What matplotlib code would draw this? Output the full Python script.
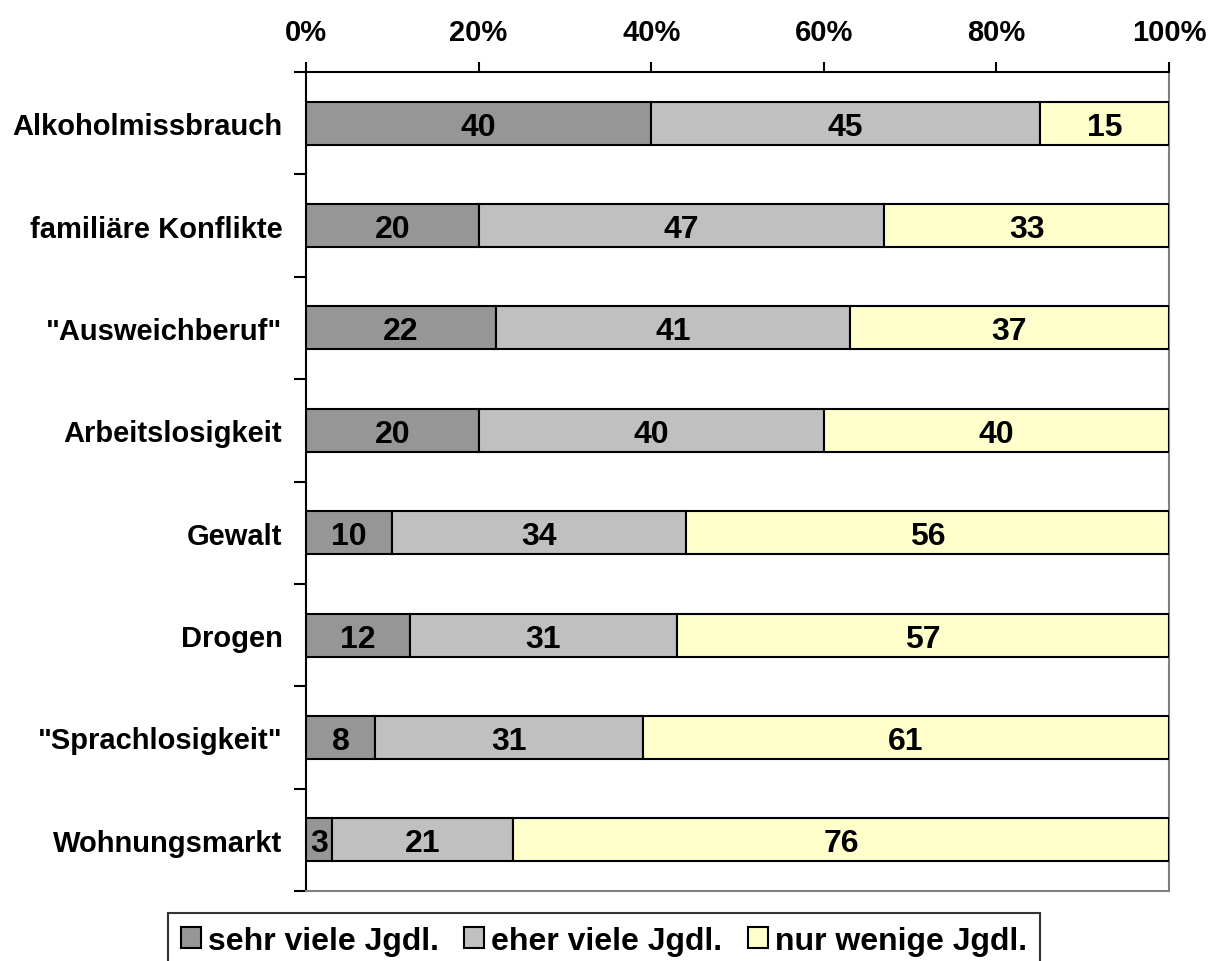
import numpy as np
import matplotlib.pyplot as plt
from matplotlib.patches import Patch

categories = ['Alkoholmissbrauch', 'familiäre Konflikte', '"Ausweichberuf"',
              'Arbeitslosigkeit', 'Gewalt', 'Drogen', '"Sprachlosigkeit"',
              'Wohnungsmarkt']
sehr_viele = [40, 20, 22, 20, 10, 12, 8, 3]
eher_viele = [45, 47, 41, 40, 34, 31, 31, 21]
nur_wenige = [15, 33, 37, 40, 56, 57, 61, 76]
series_names = ['sehr viele Jgdl.', 'eher viele Jgdl.', 'nur wenige Jgdl.']
colors = ['#969696', '#C0C0C0', '#FFFFCC']

plt.rcParams['font.family'] = ['Liberation Sans', 'DejaVu Sans']
plt.rcParams['font.weight'] = 'bold'

fig = plt.figure(figsize=(12.19, 9.62), dpi=100)
ax = fig.add_axes([306/1219, 1 - 892/962, (1169-306)/1219, (892-73)/962])

y = np.arange(len(categories))
left = np.zeros(len(categories))
for vals, col in zip([sehr_viele, eher_viele, nur_wenige], colors):
    vals = np.array(vals)
    ax.barh(y, vals, left=left, height=0.42, color=col,
            edgecolor='black', linewidth=1.5, zorder=3)
    for yi, l, v in zip(y, left, vals):
        ax.text(l + v / 2, yi, str(v), ha='center', va='center_baseline',
                fontsize=23, fontweight='bold', zorder=4)
    left = left + vals

ax.set_xlim(0, 100)
ax.set_ylim(len(categories) - 0.5, -0.5)

ax.xaxis.tick_top()
ax.set_xticks([0, 20, 40, 60, 80, 100])
ax.set_xticklabels(['0%', '20%', '40%', '60%', '80%', '100%'])
ax.tick_params(axis='x', direction='out', length=7, width=1.5, pad=12,
               labelsize=21)

ax.set_yticks(np.arange(len(categories) + 1) - 0.5)
ax.set_yticklabels([])
ax.set_yticks(y, minor=True)
ax.set_yticklabels(categories, minor=True, fontsize=21, fontweight='bold')
ax.tick_params(axis='y', which='major', direction='out', length=8.5, width=1.5)
ax.tick_params(axis='y', which='minor', length=0, pad=17)

ax.spines['top'].set_linewidth(1.5)
ax.spines['left'].set_linewidth(1.5)
ax.spines['right'].set_color('#808080')
ax.spines['right'].set_linewidth(1.5)
ax.spines['bottom'].set_color('#808080')
ax.spines['bottom'].set_linewidth(1.5)

handles = [Patch(facecolor=c, edgecolor='black', linewidth=1.5) for c in colors]
leg = fig.legend(handles, series_names, loc='upper center',
                 bbox_to_anchor=(604/1219, 1 - 914/962), ncol=3,
                 prop={'size': 23, 'weight': 'bold'}, frameon=True,
                 fancybox=False, edgecolor='black', handlelength=0.62,
                 handleheight=0.62, handletextpad=0.22, columnspacing=0.8,
                 borderpad=0.4, borderaxespad=0)
leg.get_frame().set_linewidth(1.5)

fig.savefig('out.png', dpi=100)
